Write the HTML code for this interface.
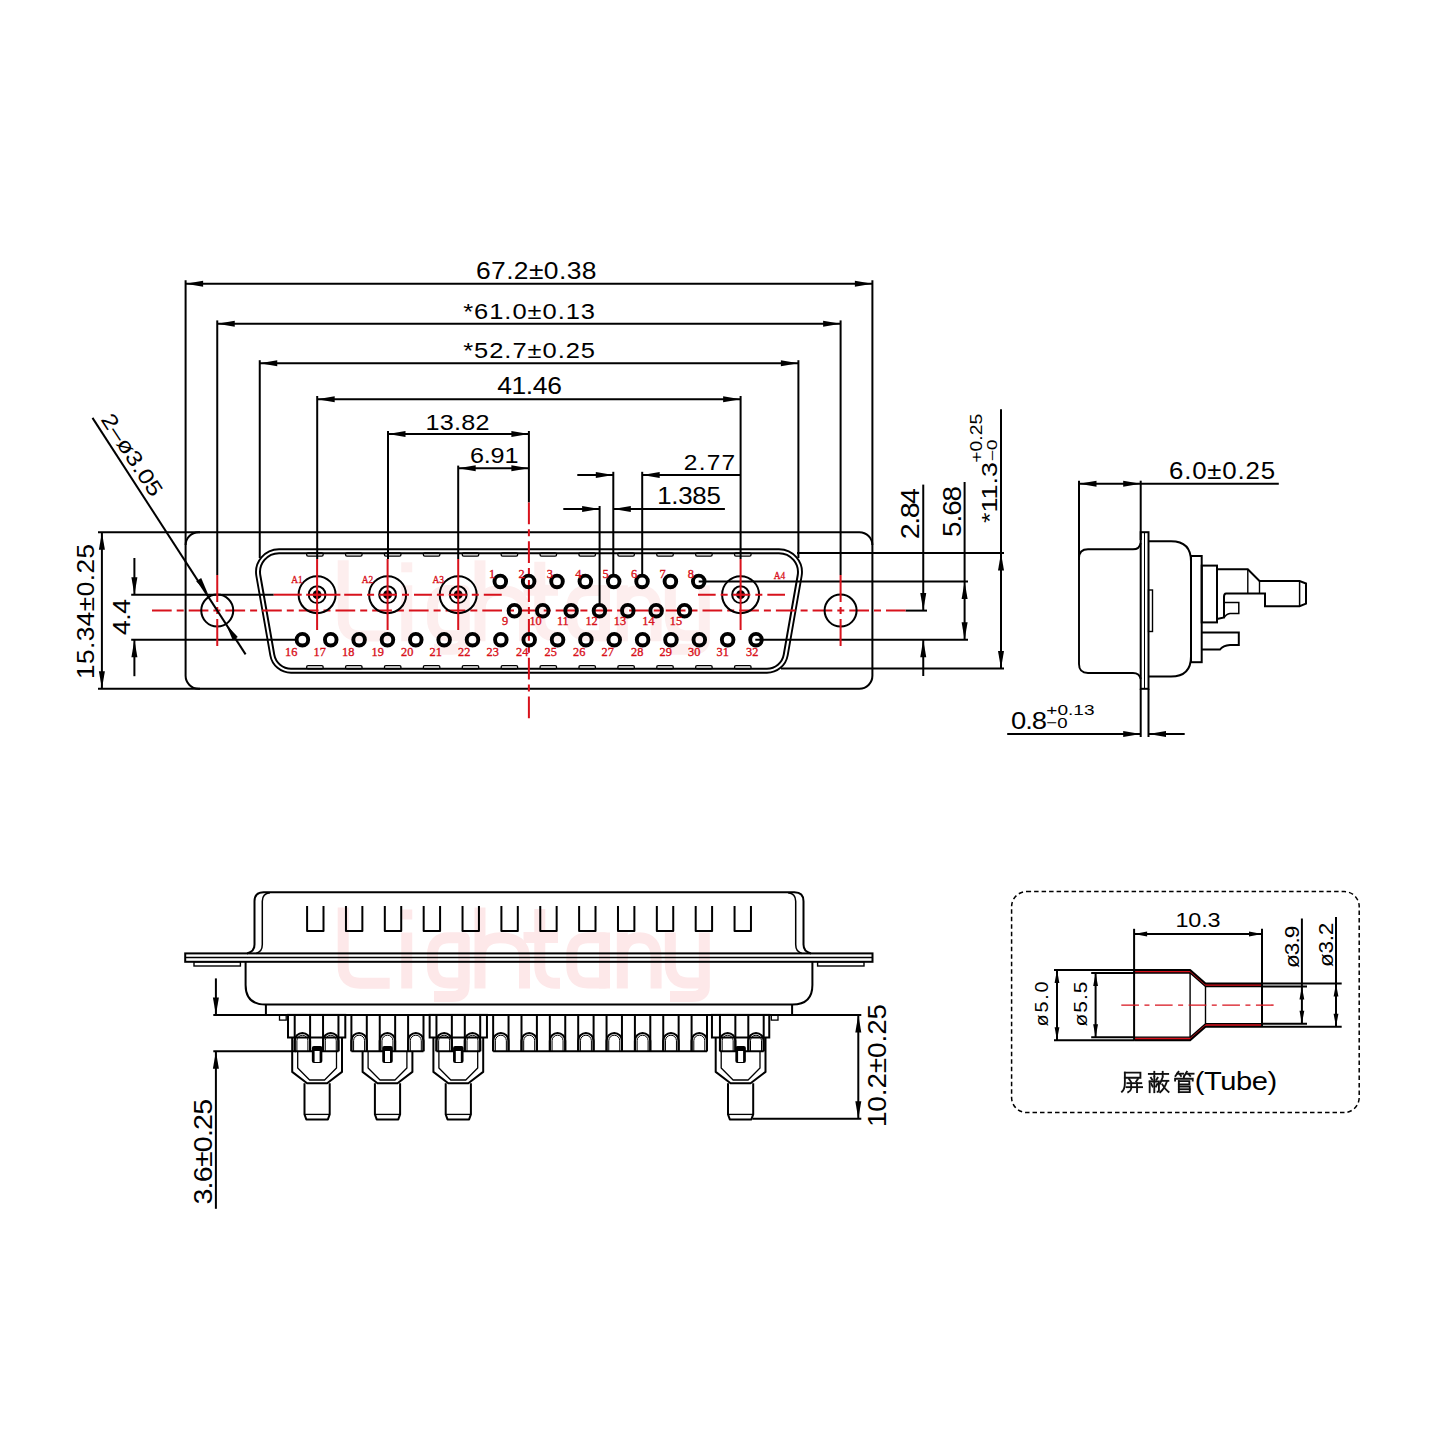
<!DOCTYPE html><html><head><meta charset="utf-8"><style>html,body{margin:0;padding:0;background:#fff;width:1440px;height:1440px;overflow:hidden}svg{display:block}</style></head><body><svg width="1440" height="1440" viewBox="0 0 1440 1440">
<rect width="1440" height="1440" fill="#fff"/>
<g transform="translate(0,-347.2)" fill="none" stroke="#fdeeee" stroke-width="11" stroke-linecap="butt" stroke-linejoin="round">
<path d="M343.2,907.5 V966 Q343.2,983.2 360,983.2 H389.7"/>
<path d="M406.75,932.5 V988.5"/>
<path d="M432.5,955 Q432.5,937.8 449,937.8 H464 V983 H449 Q432.5,983 432.5,966 Z"/>
<path d="M464,937 V987 Q464,996.5 452,996.5 H434"/>
<path d="M480,907.5 V988.5"/>
<path d="M480,958 Q480,937.8 500,937.8 Q524.5,937.8 524.5,958 V988.5"/>
<path d="M539.8,909 V966 Q539.8,983.2 556,983.2 H560"/>
<path d="M523.5,937.4 H558"/>
<path d="M571.8,955 Q571.8,937.8 588,937.8 H604.5 V983 H588 Q571.8,983 571.8,966 Z"/>
<path d="M604.5,932.5 V988.5"/>
<path d="M622.3,932.5 V988.5"/>
<path d="M622.3,958 Q622.3,937.8 639.2,937.8 Q656.1,937.8 656.1,958 V988.5"/>
<path d="M670.3,932.5 V963 Q670.3,983 688,983 H704"/>
<path d="M704.3,932.5 V987 Q704.3,996.5 692,996.5 H670"/>
<rect x="401.25" y="909.5" width="11" height="10" fill="#fdeeee" stroke="none"/>
</g>
<g transform="translate(0,0)" fill="none" stroke="#fde8e9" stroke-width="11" stroke-linecap="butt" stroke-linejoin="round">
<path d="M343.2,907.5 V966 Q343.2,983.2 360,983.2 H389.7"/>
<path d="M406.75,932.5 V988.5"/>
<path d="M432.5,955 Q432.5,937.8 449,937.8 H464 V983 H449 Q432.5,983 432.5,966 Z"/>
<path d="M464,937 V987 Q464,996.5 452,996.5 H434"/>
<path d="M480,907.5 V988.5"/>
<path d="M480,958 Q480,937.8 500,937.8 Q524.5,937.8 524.5,958 V988.5"/>
<path d="M539.8,909 V966 Q539.8,983.2 556,983.2 H560"/>
<path d="M523.5,937.4 H558"/>
<path d="M571.8,955 Q571.8,937.8 588,937.8 H604.5 V983 H588 Q571.8,983 571.8,966 Z"/>
<path d="M604.5,932.5 V988.5"/>
<path d="M622.3,932.5 V988.5"/>
<path d="M622.3,958 Q622.3,937.8 639.2,937.8 Q656.1,937.8 656.1,958 V988.5"/>
<path d="M670.3,932.5 V963 Q670.3,983 688,983 H704"/>
<path d="M704.3,932.5 V987 Q704.3,996.5 692,996.5 H670"/>
<rect x="401.25" y="909.5" width="11" height="10" fill="#fde8e9" stroke="none"/>
</g>
<line x1="185.6" y1="283.8" x2="872.4" y2="283.8" stroke="#000" stroke-width="2" stroke-linecap="butt"/>
<polygon points="185.6,283.8 203.1,280.8 203.1,286.8" fill="#000"/>
<polygon points="872.4,283.8 854.9,286.8 854.9,280.8" fill="#000"/>
<text id="d67" transform="translate(536.2,279.2) scale(1.12,1)" x="0" y="0" font-family="Liberation Sans" font-size="23.61" fill="#000" text-anchor="middle" textLength="107.61" lengthAdjust="spacing">67.2±0.38</text>
<line x1="217.25" y1="323.7" x2="840.6" y2="323.7" stroke="#000" stroke-width="2" stroke-linecap="butt"/>
<polygon points="217.25,323.7 234.75,320.7 234.75,326.7" fill="#000"/>
<polygon points="840.6,323.7 823.1,326.7 823.1,320.7" fill="#000"/>
<text id="d61" transform="translate(529.1,318.8) scale(1.12,1)" x="0" y="0" font-family="Liberation Sans" font-size="22.79" fill="#000" text-anchor="middle" textLength="117.72" lengthAdjust="spacing">*61.0±0.13</text>
<line x1="259.75" y1="363.3" x2="798.4" y2="363.3" stroke="#000" stroke-width="2" stroke-linecap="butt"/>
<polygon points="259.75,363.3 277.25,360.3 277.25,366.3" fill="#000"/>
<polygon points="798.4,363.3 780.9,366.3 780.9,360.3" fill="#000"/>
<text id="d52" transform="translate(529.1,358.4) scale(1.12,1)" x="0" y="0" font-family="Liberation Sans" font-size="22.79" fill="#000" text-anchor="middle" textLength="117.72" lengthAdjust="spacing">*52.7±0.25</text>
<line x1="317.2" y1="399.3" x2="740.6" y2="399.3" stroke="#000" stroke-width="2" stroke-linecap="butt"/>
<polygon points="317.2,399.3 334.7,396.3 334.7,402.3" fill="#000"/>
<polygon points="740.6,399.3 723.1,402.3 723.1,396.3" fill="#000"/>
<text id="d41" transform="translate(529.5,394) scale(1.12,1)" x="0" y="0" font-family="Liberation Sans" font-size="23.61" fill="#000" text-anchor="middle" textLength="57.79" lengthAdjust="spacing">41.46</text>
<line x1="388" y1="434" x2="528.9" y2="434" stroke="#000" stroke-width="2" stroke-linecap="butt"/>
<polygon points="388,434 405.5,431 405.5,437" fill="#000"/>
<polygon points="528.9,434 511.4,437 511.4,431" fill="#000"/>
<text id="d13" transform="translate(457.5,429.6) scale(1.12,1)" x="0" y="0" font-family="Liberation Sans" font-size="22.48" fill="#000" text-anchor="middle" textLength="57.34" lengthAdjust="spacing">13.82</text>
<line x1="458.2" y1="468.2" x2="528.9" y2="468.2" stroke="#000" stroke-width="2" stroke-linecap="butt"/>
<polygon points="458.2,468.2 475.7,465.2 475.7,471.2" fill="#000"/>
<polygon points="528.9,468.2 511.4,471.2 511.4,465.2" fill="#000"/>
<text id="d69" transform="translate(494.2,463.4) scale(1.12,1)" x="0" y="0" font-family="Liberation Sans" font-size="22.51" fill="#000" text-anchor="middle" textLength="43.24" lengthAdjust="spacing">6.91</text>
<line x1="185.6" y1="280.3" x2="185.6" y2="545" stroke="#000" stroke-width="2" stroke-linecap="butt"/>
<line x1="217.25" y1="320.4" x2="217.25" y2="575" stroke="#000" stroke-width="2" stroke-linecap="butt"/>
<line x1="259.75" y1="360.2" x2="259.75" y2="558" stroke="#000" stroke-width="2" stroke-linecap="butt"/>
<line x1="317.2" y1="396" x2="317.2" y2="559" stroke="#000" stroke-width="2" stroke-linecap="butt"/>
<line x1="388" y1="431" x2="388" y2="559" stroke="#000" stroke-width="2" stroke-linecap="butt"/>
<line x1="458.2" y1="465.6" x2="458.2" y2="559" stroke="#000" stroke-width="2" stroke-linecap="butt"/>
<line x1="528.9" y1="431" x2="528.9" y2="502.5" stroke="#000" stroke-width="2" stroke-linecap="butt"/>
<line x1="740.6" y1="396" x2="740.6" y2="559" stroke="#000" stroke-width="2" stroke-linecap="butt"/>
<line x1="798.4" y1="360.2" x2="798.4" y2="558" stroke="#000" stroke-width="2" stroke-linecap="butt"/>
<line x1="840.6" y1="320.4" x2="840.6" y2="575" stroke="#000" stroke-width="2" stroke-linecap="butt"/>
<line x1="872.4" y1="280.3" x2="872.4" y2="545" stroke="#000" stroke-width="2" stroke-linecap="butt"/>
<line x1="577.3" y1="474.9" x2="613.3" y2="474.9" stroke="#000" stroke-width="2" stroke-linecap="butt"/>
<polygon points="613.3,474.9 595.8,477.9 595.8,471.9" fill="#000"/>
<line x1="642.2" y1="474.9" x2="740.6" y2="474.9" stroke="#000" stroke-width="2" stroke-linecap="butt"/>
<polygon points="642.2,474.9 659.7,471.9 659.7,477.9" fill="#000"/>
<line x1="613.3" y1="471.8" x2="613.3" y2="575.5" stroke="#000" stroke-width="2" stroke-linecap="butt"/>
<line x1="642.2" y1="471.8" x2="642.2" y2="575.5" stroke="#000" stroke-width="2" stroke-linecap="butt"/>
<line x1="563.3" y1="508.9" x2="599.6" y2="508.9" stroke="#000" stroke-width="2" stroke-linecap="butt"/>
<polygon points="599.6,508.9 582.1,511.9 582.1,505.9" fill="#000"/>
<line x1="613.3" y1="508.9" x2="724.9" y2="508.9" stroke="#000" stroke-width="2" stroke-linecap="butt"/>
<polygon points="613.3,508.9 630.8,505.9 630.8,511.9" fill="#000"/>
<line x1="599.6" y1="506" x2="599.6" y2="604.5" stroke="#000" stroke-width="2" stroke-linecap="butt"/>
<text id="d277" transform="translate(709.5,470.2) scale(1.12,1)" x="0" y="0" font-family="Liberation Sans" font-size="21.88" fill="#000" text-anchor="middle" textLength="45.87" lengthAdjust="spacing">2.77</text>
<text id="d1385" transform="translate(689,504.2) scale(1.12,1)" x="0" y="0" font-family="Liberation Sans" font-size="23.11" fill="#000" text-anchor="middle" textLength="56.86" lengthAdjust="spacing">1.385</text>
<rect x="185.6" y="532.2" width="686.8" height="156.6" rx="13" ry="13" fill="none" stroke="#000" stroke-width="2.0"/>
<line x1="98" y1="532.2" x2="200" y2="532.2" stroke="#000" stroke-width="2" stroke-linecap="butt"/>
<line x1="98" y1="688.8" x2="200" y2="688.8" stroke="#000" stroke-width="2" stroke-linecap="butt"/>
<path d="M279.05,549.2 L778.95,549.2 A23,23 0 0 1 801.61,576.19 L787.67,655.34 A21,21 0 0 1 766.99,672.7 L291.01,672.7 A21,21 0 0 1 270.33,655.34 L256.39,576.19 A23,23 0 0 1 279.05,549.2 Z" fill="none" stroke="#000" stroke-width="1.9"/>
<path d="M279.05,553.2 L778.95,553.2 A19,19 0 0 1 797.67,575.49 L783.74,654.65 A17,17 0 0 1 766.99,668.7 L291.01,668.7 A17,17 0 0 1 274.26,654.65 L260.33,575.49 A19,19 0 0 1 279.05,553.2 Z" fill="none" stroke="#000" stroke-width="2"/>
<rect x="306.65" y="552.9" width="16.5" height="3.2" rx="1.4" fill="none" stroke="#000" stroke-width="1.3"/>
<rect x="306.65" y="665.6" width="16.5" height="3.2" rx="1.4" fill="none" stroke="#000" stroke-width="1.3"/>
<rect x="345.55" y="552.9" width="16.5" height="3.2" rx="1.4" fill="none" stroke="#000" stroke-width="1.3"/>
<rect x="345.55" y="665.6" width="16.5" height="3.2" rx="1.4" fill="none" stroke="#000" stroke-width="1.3"/>
<rect x="384.45" y="552.9" width="16.5" height="3.2" rx="1.4" fill="none" stroke="#000" stroke-width="1.3"/>
<rect x="384.45" y="665.6" width="16.5" height="3.2" rx="1.4" fill="none" stroke="#000" stroke-width="1.3"/>
<rect x="423.35" y="552.9" width="16.5" height="3.2" rx="1.4" fill="none" stroke="#000" stroke-width="1.3"/>
<rect x="423.35" y="665.6" width="16.5" height="3.2" rx="1.4" fill="none" stroke="#000" stroke-width="1.3"/>
<rect x="462.25" y="552.9" width="16.5" height="3.2" rx="1.4" fill="none" stroke="#000" stroke-width="1.3"/>
<rect x="462.25" y="665.6" width="16.5" height="3.2" rx="1.4" fill="none" stroke="#000" stroke-width="1.3"/>
<rect x="501.15" y="552.9" width="16.5" height="3.2" rx="1.4" fill="none" stroke="#000" stroke-width="1.3"/>
<rect x="501.15" y="665.6" width="16.5" height="3.2" rx="1.4" fill="none" stroke="#000" stroke-width="1.3"/>
<rect x="540.05" y="552.9" width="16.5" height="3.2" rx="1.4" fill="none" stroke="#000" stroke-width="1.3"/>
<rect x="540.05" y="665.6" width="16.5" height="3.2" rx="1.4" fill="none" stroke="#000" stroke-width="1.3"/>
<rect x="578.95" y="552.9" width="16.5" height="3.2" rx="1.4" fill="none" stroke="#000" stroke-width="1.3"/>
<rect x="578.95" y="665.6" width="16.5" height="3.2" rx="1.4" fill="none" stroke="#000" stroke-width="1.3"/>
<rect x="617.85" y="552.9" width="16.5" height="3.2" rx="1.4" fill="none" stroke="#000" stroke-width="1.3"/>
<rect x="617.85" y="665.6" width="16.5" height="3.2" rx="1.4" fill="none" stroke="#000" stroke-width="1.3"/>
<rect x="656.75" y="552.9" width="16.5" height="3.2" rx="1.4" fill="none" stroke="#000" stroke-width="1.3"/>
<rect x="656.75" y="665.6" width="16.5" height="3.2" rx="1.4" fill="none" stroke="#000" stroke-width="1.3"/>
<rect x="695.65" y="552.9" width="16.5" height="3.2" rx="1.4" fill="none" stroke="#000" stroke-width="1.3"/>
<rect x="695.65" y="665.6" width="16.5" height="3.2" rx="1.4" fill="none" stroke="#000" stroke-width="1.3"/>
<rect x="734.55" y="552.9" width="16.5" height="3.2" rx="1.4" fill="none" stroke="#000" stroke-width="1.3"/>
<rect x="734.55" y="665.6" width="16.5" height="3.2" rx="1.4" fill="none" stroke="#000" stroke-width="1.3"/>
<line x1="797" y1="552.9" x2="1004" y2="552.9" stroke="#000" stroke-width="2" stroke-linecap="butt"/>
<line x1="698.7" y1="581.4" x2="968" y2="581.4" stroke="#000" stroke-width="2" stroke-linecap="butt"/>
<line x1="755.3" y1="639.7" x2="968" y2="639.7" stroke="#000" stroke-width="2" stroke-linecap="butt"/>
<line x1="781" y1="668.6" x2="1004" y2="668.6" stroke="#000" stroke-width="2" stroke-linecap="butt"/>
<line x1="905.6" y1="610.6" x2="927" y2="610.6" stroke="#000" stroke-width="2" stroke-linecap="butt"/>
<line x1="131.2" y1="594.7" x2="273.7" y2="594.7" stroke="#000" stroke-width="2" stroke-linecap="butt"/>
<line x1="131.2" y1="639.7" x2="296" y2="639.7" stroke="#000" stroke-width="2" stroke-linecap="butt"/>
<line x1="152" y1="610.6" x2="905.6" y2="610.6" stroke="#d8121c" stroke-width="2" stroke-linecap="butt" stroke-dasharray="19.7 5 7 5"/>
<line x1="528.9" y1="502.5" x2="528.9" y2="718.3" stroke="#d8121c" stroke-width="2" stroke-linecap="butt" stroke-dasharray="21.8 5 7 5"/>
<circle cx="217.25" cy="610.6" r="16" fill="none" stroke="#000" stroke-width="2"/>
<line x1="217.25" y1="575" x2="217.25" y2="646" stroke="#d8121c" stroke-width="2" stroke-linecap="butt" stroke-dasharray="27 5 7 5"/>
<circle cx="840.6" cy="610.6" r="16" fill="none" stroke="#000" stroke-width="2"/>
<line x1="840.6" y1="575" x2="840.6" y2="646" stroke="#d8121c" stroke-width="2" stroke-linecap="butt" stroke-dasharray="27 5 7 5"/>
<circle cx="317.1" cy="594.7" r="18.5" fill="none" stroke="#000" stroke-width="2"/>
<circle cx="317.1" cy="594.7" r="8.4" fill="none" stroke="#000" stroke-width="2"/>
<circle cx="317.1" cy="594.7" r="4.4" fill="#000" stroke="#000" stroke-width="0"/>
<line x1="317.1" y1="559" x2="317.1" y2="630" stroke="#d8121c" stroke-width="2" stroke-linecap="butt"/>
<line x1="313.5" y1="594.7" x2="320.7" y2="594.7" stroke="#d8121c" stroke-width="2" stroke-linecap="butt"/>
<circle cx="387.6" cy="594.7" r="18.5" fill="none" stroke="#000" stroke-width="2"/>
<circle cx="387.6" cy="594.7" r="8.4" fill="none" stroke="#000" stroke-width="2"/>
<circle cx="387.6" cy="594.7" r="4.4" fill="#000" stroke="#000" stroke-width="0"/>
<line x1="387.6" y1="559" x2="387.6" y2="630" stroke="#d8121c" stroke-width="2" stroke-linecap="butt"/>
<line x1="384" y1="594.7" x2="391.2" y2="594.7" stroke="#d8121c" stroke-width="2" stroke-linecap="butt"/>
<circle cx="458.2" cy="594.7" r="18.5" fill="none" stroke="#000" stroke-width="2"/>
<circle cx="458.2" cy="594.7" r="8.4" fill="none" stroke="#000" stroke-width="2"/>
<circle cx="458.2" cy="594.7" r="4.4" fill="#000" stroke="#000" stroke-width="0"/>
<line x1="458.2" y1="559" x2="458.2" y2="630" stroke="#d8121c" stroke-width="2" stroke-linecap="butt"/>
<line x1="454.6" y1="594.7" x2="461.8" y2="594.7" stroke="#d8121c" stroke-width="2" stroke-linecap="butt"/>
<circle cx="740.6" cy="594.7" r="18.5" fill="none" stroke="#000" stroke-width="2"/>
<circle cx="740.6" cy="594.7" r="8.4" fill="none" stroke="#000" stroke-width="2"/>
<circle cx="740.6" cy="594.7" r="4.4" fill="#000" stroke="#000" stroke-width="0"/>
<line x1="740.6" y1="559" x2="740.6" y2="630" stroke="#d8121c" stroke-width="2" stroke-linecap="butt"/>
<line x1="737" y1="594.7" x2="744.2" y2="594.7" stroke="#d8121c" stroke-width="2" stroke-linecap="butt"/>
<line x1="273.7" y1="594.7" x2="301.7" y2="594.7" stroke="#d8121c" stroke-width="2" stroke-linecap="butt"/>
<line x1="306.2" y1="594.7" x2="340.4" y2="594.7" stroke="#d8121c" stroke-width="2" stroke-linecap="butt"/>
<line x1="344.2" y1="594.7" x2="501.7" y2="594.7" stroke="#d8121c" stroke-width="2" stroke-linecap="butt" stroke-dasharray="17.9 5 7 5"/>
<line x1="698" y1="594.7" x2="785" y2="594.7" stroke="#d8121c" stroke-width="2" stroke-linecap="butt" stroke-dasharray="17.67 5 7 5"/>
<circle cx="500.3" cy="581.4" r="5.8" fill="none" stroke="#000" stroke-width="3.9"/>
<circle cx="528.65" cy="581.4" r="5.8" fill="none" stroke="#000" stroke-width="3.9"/>
<circle cx="557" cy="581.4" r="5.8" fill="none" stroke="#000" stroke-width="3.9"/>
<circle cx="585.35" cy="581.4" r="5.8" fill="none" stroke="#000" stroke-width="3.9"/>
<circle cx="613.7" cy="581.4" r="5.8" fill="none" stroke="#000" stroke-width="3.9"/>
<circle cx="642.05" cy="581.4" r="5.8" fill="none" stroke="#000" stroke-width="3.9"/>
<circle cx="670.4" cy="581.4" r="5.8" fill="none" stroke="#000" stroke-width="3.9"/>
<circle cx="698.75" cy="581.4" r="5.8" fill="none" stroke="#000" stroke-width="3.9"/>
<circle cx="514.4" cy="610.7" r="5.8" fill="none" stroke="#000" stroke-width="3.9"/>
<circle cx="542.75" cy="610.7" r="5.8" fill="none" stroke="#000" stroke-width="3.9"/>
<circle cx="571.1" cy="610.7" r="5.8" fill="none" stroke="#000" stroke-width="3.9"/>
<circle cx="599.45" cy="610.7" r="5.8" fill="none" stroke="#000" stroke-width="3.9"/>
<circle cx="627.8" cy="610.7" r="5.8" fill="none" stroke="#000" stroke-width="3.9"/>
<circle cx="656.15" cy="610.7" r="5.8" fill="none" stroke="#000" stroke-width="3.9"/>
<circle cx="684.5" cy="610.7" r="5.8" fill="none" stroke="#000" stroke-width="3.9"/>
<circle cx="302.4" cy="639.7" r="5.8" fill="none" stroke="#000" stroke-width="3.9"/>
<circle cx="330.75" cy="639.7" r="5.8" fill="none" stroke="#000" stroke-width="3.9"/>
<circle cx="359.1" cy="639.7" r="5.8" fill="none" stroke="#000" stroke-width="3.9"/>
<circle cx="387.45" cy="639.7" r="5.8" fill="none" stroke="#000" stroke-width="3.9"/>
<circle cx="415.8" cy="639.7" r="5.8" fill="none" stroke="#000" stroke-width="3.9"/>
<circle cx="444.15" cy="639.7" r="5.8" fill="none" stroke="#000" stroke-width="3.9"/>
<circle cx="472.5" cy="639.7" r="5.8" fill="none" stroke="#000" stroke-width="3.9"/>
<circle cx="500.85" cy="639.7" r="5.8" fill="none" stroke="#000" stroke-width="3.9"/>
<circle cx="529.2" cy="639.7" r="5.8" fill="none" stroke="#000" stroke-width="3.9"/>
<circle cx="557.55" cy="639.7" r="5.8" fill="none" stroke="#000" stroke-width="3.9"/>
<circle cx="585.9" cy="639.7" r="5.8" fill="none" stroke="#000" stroke-width="3.9"/>
<circle cx="614.25" cy="639.7" r="5.8" fill="none" stroke="#000" stroke-width="3.9"/>
<circle cx="642.6" cy="639.7" r="5.8" fill="none" stroke="#000" stroke-width="3.9"/>
<circle cx="670.95" cy="639.7" r="5.8" fill="none" stroke="#000" stroke-width="3.9"/>
<circle cx="699.3" cy="639.7" r="5.8" fill="none" stroke="#000" stroke-width="3.9"/>
<circle cx="727.65" cy="639.7" r="5.8" fill="none" stroke="#000" stroke-width="3.9"/>
<circle cx="756" cy="639.7" r="5.8" fill="none" stroke="#000" stroke-width="3.9"/>
<text id="L1" x="489" y="578" font-family="Liberation Serif" font-size="12.3" fill="#d8121c" stroke="#d8121c" stroke-width="0.35">1</text>
<text id="L2" x="518.4" y="578" font-family="Liberation Serif" font-size="12.3" fill="#d8121c" stroke="#d8121c" stroke-width="0.35">2</text>
<text id="L3" x="546.8" y="578" font-family="Liberation Serif" font-size="12.3" fill="#d8121c" stroke="#d8121c" stroke-width="0.35">3</text>
<text id="L4" x="575.2" y="578" font-family="Liberation Serif" font-size="12.3" fill="#d8121c" stroke="#d8121c" stroke-width="0.35">4</text>
<text id="L5" x="602.6" y="578" font-family="Liberation Serif" font-size="12.3" fill="#d8121c" stroke="#d8121c" stroke-width="0.35">5</text>
<text id="L6" x="631" y="578" font-family="Liberation Serif" font-size="12.3" fill="#d8121c" stroke="#d8121c" stroke-width="0.35">6</text>
<text id="L7" x="659.4" y="578" font-family="Liberation Serif" font-size="12.3" fill="#d8121c" stroke="#d8121c" stroke-width="0.35">7</text>
<text id="L8" x="687.8" y="578" font-family="Liberation Serif" font-size="12.3" fill="#d8121c" stroke="#d8121c" stroke-width="0.35">8</text>
<text id="L9" x="502" y="625" font-family="Liberation Serif" font-size="12.3" fill="#d8121c" stroke="#d8121c" stroke-width="0.35">9</text>
<text id="L10" x="529.46" y="625" font-family="Liberation Serif" font-size="12.3" fill="#d8121c" stroke="#d8121c" stroke-width="0.35">10</text>
<text id="L11" x="556.92" y="625" font-family="Liberation Serif" font-size="12.3" fill="#d8121c" stroke="#d8121c" stroke-width="0.35">11</text>
<text id="L12" x="585.38" y="625" font-family="Liberation Serif" font-size="12.3" fill="#d8121c" stroke="#d8121c" stroke-width="0.35">12</text>
<text id="L13" x="613.84" y="625" font-family="Liberation Serif" font-size="12.3" fill="#d8121c" stroke="#d8121c" stroke-width="0.35">13</text>
<text id="L14" x="642.3" y="625" font-family="Liberation Serif" font-size="12.3" fill="#d8121c" stroke="#d8121c" stroke-width="0.35">14</text>
<text id="L15" x="669.76" y="625" font-family="Liberation Serif" font-size="12.3" fill="#d8121c" stroke="#d8121c" stroke-width="0.35">15</text>
<text id="L16" x="285" y="655.8" font-family="Liberation Serif" font-size="12.3" fill="#d8121c" stroke="#d8121c" stroke-width="0.35">16</text>
<text id="L17" x="313.5" y="655.8" font-family="Liberation Serif" font-size="12.3" fill="#d8121c" stroke="#d8121c" stroke-width="0.35">17</text>
<text id="L18" x="342" y="655.8" font-family="Liberation Serif" font-size="12.3" fill="#d8121c" stroke="#d8121c" stroke-width="0.35">18</text>
<text id="L19" x="371.5" y="655.8" font-family="Liberation Serif" font-size="12.3" fill="#d8121c" stroke="#d8121c" stroke-width="0.35">19</text>
<text id="L20" x="401" y="655.8" font-family="Liberation Serif" font-size="12.3" fill="#d8121c" stroke="#d8121c" stroke-width="0.35">20</text>
<text id="L21" x="429.5" y="655.8" font-family="Liberation Serif" font-size="12.3" fill="#d8121c" stroke="#d8121c" stroke-width="0.35">21</text>
<text id="L22" x="458" y="655.8" font-family="Liberation Serif" font-size="12.3" fill="#d8121c" stroke="#d8121c" stroke-width="0.35">22</text>
<text id="L23" x="486.5" y="655.8" font-family="Liberation Serif" font-size="12.3" fill="#d8121c" stroke="#d8121c" stroke-width="0.35">23</text>
<text id="L24" x="516" y="655.8" font-family="Liberation Serif" font-size="12.3" fill="#d8121c" stroke="#d8121c" stroke-width="0.35">24</text>
<text id="L25" x="544.5" y="655.8" font-family="Liberation Serif" font-size="12.3" fill="#d8121c" stroke="#d8121c" stroke-width="0.35">25</text>
<text id="L26" x="573" y="655.8" font-family="Liberation Serif" font-size="12.3" fill="#d8121c" stroke="#d8121c" stroke-width="0.35">26</text>
<text id="L27" x="601.5" y="655.8" font-family="Liberation Serif" font-size="12.3" fill="#d8121c" stroke="#d8121c" stroke-width="0.35">27</text>
<text id="L28" x="631" y="655.8" font-family="Liberation Serif" font-size="12.3" fill="#d8121c" stroke="#d8121c" stroke-width="0.35">28</text>
<text id="L29" x="659.5" y="655.8" font-family="Liberation Serif" font-size="12.3" fill="#d8121c" stroke="#d8121c" stroke-width="0.35">29</text>
<text id="L30" x="688" y="655.8" font-family="Liberation Serif" font-size="12.3" fill="#d8121c" stroke="#d8121c" stroke-width="0.35">30</text>
<text id="L31" x="716.5" y="655.8" font-family="Liberation Serif" font-size="12.3" fill="#d8121c" stroke="#d8121c" stroke-width="0.35">31</text>
<text id="L32" x="746" y="655.8" font-family="Liberation Serif" font-size="12.3" fill="#d8121c" stroke="#d8121c" stroke-width="0.35">32</text>
<text x="291.3" y="582.7" font-family="Liberation Serif" font-size="11.2" fill="#d8121c" stroke="#d8121c" stroke-width="0.35" textLength="11.5" lengthAdjust="spacingAndGlyphs">A1</text>
<text x="361.8" y="582.7" font-family="Liberation Serif" font-size="11.2" fill="#d8121c" stroke="#d8121c" stroke-width="0.35" textLength="11.5" lengthAdjust="spacingAndGlyphs">A2</text>
<text x="432.4" y="582.7" font-family="Liberation Serif" font-size="11.2" fill="#d8121c" stroke="#d8121c" stroke-width="0.35" textLength="11.5" lengthAdjust="spacingAndGlyphs">A3</text>
<text x="773.8" y="579.4" font-family="Liberation Serif" font-size="11.2" fill="#d8121c" stroke="#d8121c" stroke-width="0.35" textLength="11.5" lengthAdjust="spacingAndGlyphs">A4</text>
<line x1="923.25" y1="484.6" x2="923.25" y2="610.6" stroke="#000" stroke-width="2" stroke-linecap="butt"/>
<polygon points="923.25,610.6 920.25,593.1 926.25,593.1" fill="#000"/>
<line x1="923.25" y1="639.7" x2="923.25" y2="676" stroke="#000" stroke-width="2" stroke-linecap="butt"/>
<polygon points="923.25,639.7 926.25,657.2 920.25,657.2" fill="#000"/>
<line x1="964.6" y1="482" x2="964.6" y2="639.7" stroke="#000" stroke-width="2" stroke-linecap="butt"/>
<polygon points="964.6,581.4 967.6,598.9 961.6,598.9" fill="#000"/>
<polygon points="964.6,639.7 961.6,622.2 967.6,622.2" fill="#000"/>
<line x1="1001" y1="409.2" x2="1001" y2="668.6" stroke="#000" stroke-width="2" stroke-linecap="butt"/>
<polygon points="1001,552.9 1004,570.4 998,570.4" fill="#000"/>
<polygon points="1001,668.6 998,651.1 1004,651.1" fill="#000"/>
<text id="d284" transform="translate(919.2,513.6) rotate(-90) scale(1.12,1)" x="0" y="0" font-family="Liberation Sans" font-size="25.54" fill="#000" text-anchor="middle" textLength="45.62" lengthAdjust="spacing">2.84</text>
<text id="d568" transform="translate(960.6,511.4) rotate(-90) scale(1.12,1)" x="0" y="0" font-family="Liberation Sans" font-size="24.93" fill="#000" text-anchor="middle" textLength="45.57" lengthAdjust="spacing">5.68</text>
<text id="d113" transform="translate(996.6,492.5) rotate(-90) scale(1,1)" x="0" y="0" font-family="Liberation Sans" font-size="22.98" fill="#000" text-anchor="middle" textLength="61.07" lengthAdjust="spacingAndGlyphs">*11.3</text>
<text id="d113p" transform="translate(982,438.3) rotate(-90) scale(1,1)" x="0" y="0" font-family="Liberation Sans" font-size="16.45" fill="#000" text-anchor="middle" textLength="48.88" lengthAdjust="spacingAndGlyphs">+0.25</text>
<text id="d113m" transform="translate(996.6,450.5) rotate(-90) scale(1,1)" x="0" y="0" font-family="Liberation Sans" font-size="13.79" fill="#000" text-anchor="middle" textLength="22.24" lengthAdjust="spacingAndGlyphs">−0</text>
<line x1="101.9" y1="532.2" x2="101.9" y2="688.8" stroke="#000" stroke-width="2" stroke-linecap="butt"/>
<polygon points="101.9,532.2 104.9,549.7 98.9,549.7" fill="#000"/>
<polygon points="101.9,688.8 98.9,671.3 104.9,671.3" fill="#000"/>
<line x1="134.4" y1="558" x2="134.4" y2="594.7" stroke="#000" stroke-width="2" stroke-linecap="butt"/>
<polygon points="134.4,594.7 131.4,577.2 137.4,577.2" fill="#000"/>
<line x1="134.4" y1="639.7" x2="134.4" y2="676.2" stroke="#000" stroke-width="2" stroke-linecap="butt"/>
<polygon points="134.4,639.7 137.4,657.2 131.4,657.2" fill="#000"/>
<text id="d1534" transform="translate(93.5,611.5) rotate(-90) scale(1.12,1)" x="0" y="0" font-family="Liberation Sans" font-size="23.39" fill="#000" text-anchor="middle" textLength="120.63" lengthAdjust="spacing">15.34±0.25</text>
<text id="d44" transform="translate(130,617) rotate(-90) scale(1.12,1)" x="0" y="0" font-family="Liberation Sans" font-size="23.94" fill="#000" text-anchor="middle" textLength="32.28" lengthAdjust="spacing">4.4</text>
<line x1="92.5" y1="417.9" x2="245.6" y2="654.4" stroke="#000" stroke-width="2" stroke-linecap="butt"/>
<polygon points="208.2,594.4 196.17,581.34 201.21,578.08" fill="#000"/>
<polygon points="225.8,623.9 237.83,636.96 232.79,640.22" fill="#000"/>
<text id="lead" transform="translate(125.9,458.9) rotate(57)" x="0" y="0" font-family="Liberation Sans" font-size="21.5" text-anchor="middle" textLength="94" lengthAdjust="spacingAndGlyphs">2–ø3.05</text>
<line x1="1079" y1="480.7" x2="1079" y2="560" stroke="#000" stroke-width="2" stroke-linecap="butt"/>
<line x1="1140.7" y1="480.7" x2="1140.7" y2="540" stroke="#000" stroke-width="2" stroke-linecap="butt"/>
<line x1="1079" y1="483.8" x2="1278.8" y2="483.8" stroke="#000" stroke-width="2" stroke-linecap="butt"/>
<polygon points="1079,483.8 1096.5,480.8 1096.5,486.8" fill="#000"/>
<polygon points="1140.7,483.8 1123.2,486.8 1123.2,480.8" fill="#000"/>
<text id="d60" transform="translate(1222,479) scale(1.12,1)" x="0" y="0" font-family="Liberation Sans" font-size="23.11" fill="#000" text-anchor="middle" textLength="94.71" lengthAdjust="spacing">6.0±0.25</text>
<path d="M1140.7,543 Q1139.5,549.3 1133,549.3 L1088,549.3 Q1079,549.3 1079,558.3 L1079,664 Q1079,673 1088,673 L1133,673 Q1139.5,673 1140.7,679" fill="none" stroke="#000" stroke-width="1.9"/>
<rect x="1140.7" y="532.2" width="7.8" height="156.6" fill="none" stroke="#000" stroke-width="2.0"/>
<line x1="1144.5" y1="532.2" x2="1144.5" y2="688.8" stroke="#000" stroke-width="1" stroke-linecap="butt"/>
<line x1="1140.7" y1="688.8" x2="1140.7" y2="737" stroke="#000" stroke-width="2" stroke-linecap="butt"/>
<line x1="1148.5" y1="688.8" x2="1148.5" y2="737" stroke="#000" stroke-width="2" stroke-linecap="butt"/>
<path d="M1148.5,541.3 L1171,541.3 Q1191,541.3 1191,561.3 L1191,656.6 Q1191,676.6 1171,676.6 L1148.5,676.6" fill="none" stroke="#000" stroke-width="2"/>
<rect x="1148.5" y="590" width="4" height="41.5" fill="none" stroke="#000" stroke-width="1.4"/>
<rect x="1191" y="556" width="10.7" height="106.2" fill="none" stroke="#000" stroke-width="2.0"/>
<rect x="1201.7" y="565.6" width="15.3" height="56.8" fill="none" stroke="#000" stroke-width="2.0"/>
<path d="M1217,569.2 L1247.8,569.2 L1259.5,581 L1299.6,581 L1306,583.5 L1306,603.6 L1299.6,606.2 L1265,606.2 L1265,593.5 L1226,593.5 Q1224,593.5 1224,597 L1224,617.5 L1217,619" fill="none" stroke="#000" stroke-width="2"/>
<line x1="1299.6" y1="581" x2="1299.6" y2="606.2" stroke="#000" stroke-width="1.5" stroke-linecap="butt"/>
<line x1="1247.8" y1="569.2" x2="1247.8" y2="593.5" stroke="#000" stroke-width="1.4" stroke-linecap="butt"/>
<line x1="1259.5" y1="580" x2="1259.5" y2="593.5" stroke="#000" stroke-width="1.4" stroke-linecap="butt"/>
<path d="M1224,602.6 L1238.8,602.6 L1238.8,613.4 L1230,613.4 Q1226,614 1224,618" fill="none" stroke="#000" stroke-width="1.5"/>
<path d="M1201.7,632.4 L1238.8,632.4 L1238.8,645 L1230,645 Q1223,645.5 1220,649.5 L1201.7,649.5" fill="none" stroke="#000" stroke-width="2"/>
<line x1="1007.2" y1="734" x2="1140.7" y2="734" stroke="#000" stroke-width="2" stroke-linecap="butt"/>
<polygon points="1140.7,734 1123.2,737 1123.2,731" fill="#000"/>
<line x1="1148.5" y1="734" x2="1184.7" y2="734" stroke="#000" stroke-width="2" stroke-linecap="butt"/>
<polygon points="1148.5,734 1166,731 1166,737" fill="#000"/>
<text id="d08" transform="translate(1029.1,729.2) scale(1.12,1)" x="0" y="0" font-family="Liberation Sans" font-size="24.48" fill="#000" text-anchor="middle" textLength="32.15" lengthAdjust="spacing">0.8</text>
<text id="d08p" transform="translate(1070.4,715) scale(1,1)" x="0" y="0" font-family="Liberation Sans" font-size="15.32" fill="#000" text-anchor="middle" textLength="48.18" lengthAdjust="spacingAndGlyphs">+0.13</text>
<text id="d08m" transform="translate(1056.9,728.4) scale(1,1)" x="0" y="0" font-family="Liberation Sans" font-size="15.32" fill="#000" text-anchor="middle" textLength="21.18" lengthAdjust="spacingAndGlyphs">−0</text>
<path d="M247,953.4 Q254.5,952 254.5,944.6 L254.5,901.3 Q254.5,892.3 263.5,892.3 L794.5,892.3 Q803.5,892.3 803.5,901.3 L803.5,944.6 Q803.5,952 811,953.4" fill="none" stroke="#000" stroke-width="2"/>
<path d="M256,953.4 Q262.3,952 262.3,944.6 L262.3,901.3 Q262.3,893.5 270,892.8" fill="none" stroke="#000" stroke-width="1.5"/>
<path d="M802,953.4 Q795.7,952 795.7,944.6 L795.7,901.3 Q795.7,893.5 788,892.8" fill="none" stroke="#000" stroke-width="1.5"/>
<polyline points="307.1,906 307.1,931 323.5,931 323.5,906" fill="none" stroke="#000" stroke-width="2" stroke-linejoin="round"/>
<polyline points="345.96,906 345.96,931 362.36,931 362.36,906" fill="none" stroke="#000" stroke-width="2" stroke-linejoin="round"/>
<polyline points="384.82,906 384.82,931 401.22,931 401.22,906" fill="none" stroke="#000" stroke-width="2" stroke-linejoin="round"/>
<polyline points="423.68,906 423.68,931 440.08,931 440.08,906" fill="none" stroke="#000" stroke-width="2" stroke-linejoin="round"/>
<polyline points="462.54,906 462.54,931 478.94,931 478.94,906" fill="none" stroke="#000" stroke-width="2" stroke-linejoin="round"/>
<polyline points="501.4,906 501.4,931 517.8,931 517.8,906" fill="none" stroke="#000" stroke-width="2" stroke-linejoin="round"/>
<polyline points="540.26,906 540.26,931 556.66,931 556.66,906" fill="none" stroke="#000" stroke-width="2" stroke-linejoin="round"/>
<polyline points="579.12,906 579.12,931 595.52,931 595.52,906" fill="none" stroke="#000" stroke-width="2" stroke-linejoin="round"/>
<polyline points="617.98,906 617.98,931 634.38,931 634.38,906" fill="none" stroke="#000" stroke-width="2" stroke-linejoin="round"/>
<polyline points="656.84,906 656.84,931 673.24,931 673.24,906" fill="none" stroke="#000" stroke-width="2" stroke-linejoin="round"/>
<polyline points="695.7,906 695.7,931 712.1,931 712.1,906" fill="none" stroke="#000" stroke-width="2" stroke-linejoin="round"/>
<polyline points="734.56,906 734.56,931 750.96,931 750.96,906" fill="none" stroke="#000" stroke-width="2" stroke-linejoin="round"/>
<rect x="185.2" y="953.4" width="687.3" height="8.4" fill="none" stroke="#000" stroke-width="2.0"/>
<line x1="185.2" y1="957.6" x2="872.5" y2="957.6" stroke="#000" stroke-width="1.5" stroke-linecap="butt"/>
<rect x="194" y="961.8" width="46.4" height="4.2" fill="none" stroke="#000" stroke-width="1.4"/>
<rect x="817.6" y="961.8" width="46.4" height="4.2" fill="none" stroke="#000" stroke-width="1.4"/>
<path d="M245.6,961.8 L245.6,985 Q245.6,1004.5 265.4,1004.5 L792.6,1004.5 Q812.4,1004.5 812.4,985 L812.4,961.8" fill="none" stroke="#000" stroke-width="2"/>
<line x1="265.9" y1="1004.5" x2="265.9" y2="1014.9" stroke="#000" stroke-width="2" stroke-linecap="butt"/>
<line x1="792.1" y1="1004.5" x2="792.1" y2="1014.9" stroke="#000" stroke-width="2" stroke-linecap="butt"/>
<line x1="213.3" y1="1014.9" x2="861.3" y2="1014.9" stroke="#000" stroke-width="2" stroke-linecap="butt"/>
<rect x="279.5" y="1014.9" width="6.7" height="5.2" fill="none" stroke="#000" stroke-width="1.3"/>
<rect x="771.3" y="1014.9" width="6.7" height="5.2" fill="none" stroke="#000" stroke-width="1.3"/>
<line x1="213.3" y1="1051.3" x2="296" y2="1051.3" stroke="#000" stroke-width="2" stroke-linecap="butt"/>
<line x1="215.9" y1="978.4" x2="215.9" y2="1014.9" stroke="#000" stroke-width="2" stroke-linecap="butt"/>
<polygon points="215.9,1014.9 212.9,997.4 218.9,997.4" fill="#000"/>
<line x1="215.9" y1="1051.3" x2="215.9" y2="1208.8" stroke="#000" stroke-width="2" stroke-linecap="butt"/>
<polygon points="215.9,1051.3 218.9,1068.8 212.9,1068.8" fill="#000"/>
<text id="d36" transform="translate(212,1151.7) rotate(-90) scale(1.12,1)" x="0" y="0" font-family="Liberation Sans" font-size="25.54" fill="#000" text-anchor="middle" textLength="94.37" lengthAdjust="spacing">3.6±0.25</text>
<line x1="752.5" y1="1118.8" x2="861.3" y2="1118.8" stroke="#000" stroke-width="2" stroke-linecap="butt"/>
<line x1="858.3" y1="1014.9" x2="858.3" y2="1118.8" stroke="#000" stroke-width="2" stroke-linecap="butt"/>
<polygon points="858.3,1014.9 861.3,1032.4 855.3,1032.4" fill="#000"/>
<polygon points="858.3,1118.8 855.3,1101.3 861.3,1101.3" fill="#000"/>
<text id="d102" transform="translate(886,1065.5) rotate(-90) scale(1.12,1)" x="0" y="0" font-family="Liberation Sans" font-size="24.9" fill="#000" text-anchor="middle" textLength="110.04" lengthAdjust="spacing">10.2±0.25</text>
<rect x="288" y="1014.9" width="57.3" height="22.6" fill="none" stroke="#000" stroke-width="2.0"/>
<line x1="294.7" y1="1014.9" x2="294.7" y2="1051.3" stroke="#000" stroke-width="2" stroke-linecap="butt"/>
<line x1="310.1" y1="1014.9" x2="310.1" y2="1051.3" stroke="#000" stroke-width="2" stroke-linecap="butt"/>
<path d="M294.7,1051.3 L294.7,1040.7 A7.7,7.7 0 0 1 310.1,1040.7 L310.1,1051.3" fill="none" stroke="#000" stroke-width="2"/>
<path d="M296.9,1051.3 L296.9,1040.7 A5.5,5.5 0 0 1 307.9,1040.7 L307.9,1051.3" fill="none" stroke="#000" stroke-width="1"/>
<line x1="323.05" y1="1014.9" x2="323.05" y2="1051.3" stroke="#000" stroke-width="2" stroke-linecap="butt"/>
<line x1="338.45" y1="1014.9" x2="338.45" y2="1051.3" stroke="#000" stroke-width="2" stroke-linecap="butt"/>
<path d="M323.05,1051.3 L323.05,1040.7 A7.7,7.7 0 0 1 338.45,1040.7 L338.45,1051.3" fill="none" stroke="#000" stroke-width="2"/>
<path d="M325.25,1051.3 L325.25,1040.7 A5.5,5.5 0 0 1 336.25,1040.7 L336.25,1051.3" fill="none" stroke="#000" stroke-width="1"/>
<line x1="294.7" y1="1051.3" x2="338.45" y2="1051.3" stroke="#000" stroke-width="2" stroke-linecap="butt"/>
<polyline points="292.2,1037.5 292.2,1071.9 307.1,1083.2 327.1,1083.2 342,1071.9 342,1037.5" fill="none" stroke="#000" stroke-width="2" stroke-linejoin="round"/>
<polyline points="297.7,1051.3 297.7,1068 309.6,1080 324.6,1080 336.5,1068 336.5,1051.3" fill="none" stroke="#000" stroke-width="1.3" stroke-linejoin="round"/>
<polyline points="304.5,1083.2 304.5,1114.4 306.3,1119.4 327.9,1119.4 329.7,1114.4 329.7,1083.2" fill="none" stroke="#000" stroke-width="2" stroke-linejoin="round"/>
<line x1="304.5" y1="1114.4" x2="329.7" y2="1114.4" stroke="#000" stroke-width="1.3" stroke-linecap="butt"/>
<rect x="311.85" y="1046" width="10.5" height="17" rx="2" fill="#000"/>
<rect x="314.6" y="1051" width="5" height="11" fill="#fff"/>
<line x1="351.4" y1="1014.9" x2="351.4" y2="1051.3" stroke="#000" stroke-width="2" stroke-linecap="butt"/>
<line x1="366.8" y1="1014.9" x2="366.8" y2="1051.3" stroke="#000" stroke-width="2" stroke-linecap="butt"/>
<path d="M351.4,1051.3 L351.4,1040.7 A7.7,7.7 0 0 1 366.8,1040.7 L366.8,1051.3" fill="none" stroke="#000" stroke-width="2"/>
<path d="M353.6,1051.3 L353.6,1040.7 A5.5,5.5 0 0 1 364.6,1040.7 L364.6,1051.3" fill="none" stroke="#000" stroke-width="1"/>
<line x1="379.75" y1="1014.9" x2="379.75" y2="1051.3" stroke="#000" stroke-width="2" stroke-linecap="butt"/>
<line x1="395.15" y1="1014.9" x2="395.15" y2="1051.3" stroke="#000" stroke-width="2" stroke-linecap="butt"/>
<path d="M379.75,1051.3 L379.75,1040.7 A7.7,7.7 0 0 1 395.15,1040.7 L395.15,1051.3" fill="none" stroke="#000" stroke-width="2"/>
<path d="M381.95,1051.3 L381.95,1040.7 A5.5,5.5 0 0 1 392.95,1040.7 L392.95,1051.3" fill="none" stroke="#000" stroke-width="1"/>
<line x1="408.1" y1="1014.9" x2="408.1" y2="1051.3" stroke="#000" stroke-width="2" stroke-linecap="butt"/>
<line x1="423.5" y1="1014.9" x2="423.5" y2="1051.3" stroke="#000" stroke-width="2" stroke-linecap="butt"/>
<path d="M408.1,1051.3 L408.1,1040.7 A7.7,7.7 0 0 1 423.5,1040.7 L423.5,1051.3" fill="none" stroke="#000" stroke-width="2"/>
<path d="M410.3,1051.3 L410.3,1040.7 A5.5,5.5 0 0 1 421.3,1040.7 L421.3,1051.3" fill="none" stroke="#000" stroke-width="1"/>
<line x1="351.4" y1="1051.3" x2="423.5" y2="1051.3" stroke="#000" stroke-width="2" stroke-linecap="butt"/>
<polyline points="362.6,1051.3 362.6,1071.9 377.5,1083.2 397.5,1083.2 412.4,1071.9 412.4,1051.3" fill="none" stroke="#000" stroke-width="2" stroke-linejoin="round"/>
<polyline points="368.1,1051.3 368.1,1068 380,1080 395,1080 406.9,1068 406.9,1051.3" fill="none" stroke="#000" stroke-width="1.3" stroke-linejoin="round"/>
<polyline points="374.9,1083.2 374.9,1114.4 376.7,1119.4 398.3,1119.4 400.1,1114.4 400.1,1083.2" fill="none" stroke="#000" stroke-width="2" stroke-linejoin="round"/>
<line x1="374.9" y1="1114.4" x2="400.1" y2="1114.4" stroke="#000" stroke-width="1.3" stroke-linecap="butt"/>
<rect x="382.25" y="1046" width="10.5" height="17" rx="2" fill="#000"/>
<rect x="385" y="1051" width="5" height="11" fill="#fff"/>
<rect x="429.65" y="1014.9" width="57.3" height="22.6" fill="none" stroke="#000" stroke-width="2.0"/>
<line x1="436.45" y1="1014.9" x2="436.45" y2="1051.3" stroke="#000" stroke-width="2" stroke-linecap="butt"/>
<line x1="451.85" y1="1014.9" x2="451.85" y2="1051.3" stroke="#000" stroke-width="2" stroke-linecap="butt"/>
<path d="M436.45,1051.3 L436.45,1040.7 A7.7,7.7 0 0 1 451.85,1040.7 L451.85,1051.3" fill="none" stroke="#000" stroke-width="2"/>
<path d="M438.65,1051.3 L438.65,1040.7 A5.5,5.5 0 0 1 449.65,1040.7 L449.65,1051.3" fill="none" stroke="#000" stroke-width="1"/>
<line x1="464.8" y1="1014.9" x2="464.8" y2="1051.3" stroke="#000" stroke-width="2" stroke-linecap="butt"/>
<line x1="480.2" y1="1014.9" x2="480.2" y2="1051.3" stroke="#000" stroke-width="2" stroke-linecap="butt"/>
<path d="M464.8,1051.3 L464.8,1040.7 A7.7,7.7 0 0 1 480.2,1040.7 L480.2,1051.3" fill="none" stroke="#000" stroke-width="2"/>
<path d="M467,1051.3 L467,1040.7 A5.5,5.5 0 0 1 478,1040.7 L478,1051.3" fill="none" stroke="#000" stroke-width="1"/>
<line x1="436.45" y1="1051.3" x2="480.2" y2="1051.3" stroke="#000" stroke-width="2" stroke-linecap="butt"/>
<polyline points="433.4,1037.5 433.4,1071.9 448.3,1083.2 468.3,1083.2 483.2,1071.9 483.2,1037.5" fill="none" stroke="#000" stroke-width="2" stroke-linejoin="round"/>
<polyline points="438.9,1051.3 438.9,1068 450.8,1080 465.8,1080 477.7,1068 477.7,1051.3" fill="none" stroke="#000" stroke-width="1.3" stroke-linejoin="round"/>
<polyline points="445.7,1083.2 445.7,1114.4 447.5,1119.4 469.1,1119.4 470.9,1114.4 470.9,1083.2" fill="none" stroke="#000" stroke-width="2" stroke-linejoin="round"/>
<line x1="445.7" y1="1114.4" x2="470.9" y2="1114.4" stroke="#000" stroke-width="1.3" stroke-linecap="butt"/>
<rect x="453.05" y="1046" width="10.5" height="17" rx="2" fill="#000"/>
<rect x="455.8" y="1051" width="5" height="11" fill="#fff"/>
<line x1="493.15" y1="1014.9" x2="493.15" y2="1051.3" stroke="#000" stroke-width="2" stroke-linecap="butt"/>
<line x1="508.55" y1="1014.9" x2="508.55" y2="1051.3" stroke="#000" stroke-width="2" stroke-linecap="butt"/>
<path d="M493.15,1051.3 L493.15,1040.7 A7.7,7.7 0 0 1 508.55,1040.7 L508.55,1051.3" fill="none" stroke="#000" stroke-width="2"/>
<path d="M495.35,1051.3 L495.35,1040.7 A5.5,5.5 0 0 1 506.35,1040.7 L506.35,1051.3" fill="none" stroke="#000" stroke-width="1"/>
<line x1="521.5" y1="1014.9" x2="521.5" y2="1051.3" stroke="#000" stroke-width="2" stroke-linecap="butt"/>
<line x1="536.9" y1="1014.9" x2="536.9" y2="1051.3" stroke="#000" stroke-width="2" stroke-linecap="butt"/>
<path d="M521.5,1051.3 L521.5,1040.7 A7.7,7.7 0 0 1 536.9,1040.7 L536.9,1051.3" fill="none" stroke="#000" stroke-width="2"/>
<path d="M523.7,1051.3 L523.7,1040.7 A5.5,5.5 0 0 1 534.7,1040.7 L534.7,1051.3" fill="none" stroke="#000" stroke-width="1"/>
<line x1="549.85" y1="1014.9" x2="549.85" y2="1051.3" stroke="#000" stroke-width="2" stroke-linecap="butt"/>
<line x1="565.25" y1="1014.9" x2="565.25" y2="1051.3" stroke="#000" stroke-width="2" stroke-linecap="butt"/>
<path d="M549.85,1051.3 L549.85,1040.7 A7.7,7.7 0 0 1 565.25,1040.7 L565.25,1051.3" fill="none" stroke="#000" stroke-width="2"/>
<path d="M552.05,1051.3 L552.05,1040.7 A5.5,5.5 0 0 1 563.05,1040.7 L563.05,1051.3" fill="none" stroke="#000" stroke-width="1"/>
<line x1="578.2" y1="1014.9" x2="578.2" y2="1051.3" stroke="#000" stroke-width="2" stroke-linecap="butt"/>
<line x1="593.6" y1="1014.9" x2="593.6" y2="1051.3" stroke="#000" stroke-width="2" stroke-linecap="butt"/>
<path d="M578.2,1051.3 L578.2,1040.7 A7.7,7.7 0 0 1 593.6,1040.7 L593.6,1051.3" fill="none" stroke="#000" stroke-width="2"/>
<path d="M580.4,1051.3 L580.4,1040.7 A5.5,5.5 0 0 1 591.4,1040.7 L591.4,1051.3" fill="none" stroke="#000" stroke-width="1"/>
<line x1="606.55" y1="1014.9" x2="606.55" y2="1051.3" stroke="#000" stroke-width="2" stroke-linecap="butt"/>
<line x1="621.95" y1="1014.9" x2="621.95" y2="1051.3" stroke="#000" stroke-width="2" stroke-linecap="butt"/>
<path d="M606.55,1051.3 L606.55,1040.7 A7.7,7.7 0 0 1 621.95,1040.7 L621.95,1051.3" fill="none" stroke="#000" stroke-width="2"/>
<path d="M608.75,1051.3 L608.75,1040.7 A5.5,5.5 0 0 1 619.75,1040.7 L619.75,1051.3" fill="none" stroke="#000" stroke-width="1"/>
<line x1="634.9" y1="1014.9" x2="634.9" y2="1051.3" stroke="#000" stroke-width="2" stroke-linecap="butt"/>
<line x1="650.3" y1="1014.9" x2="650.3" y2="1051.3" stroke="#000" stroke-width="2" stroke-linecap="butt"/>
<path d="M634.9,1051.3 L634.9,1040.7 A7.7,7.7 0 0 1 650.3,1040.7 L650.3,1051.3" fill="none" stroke="#000" stroke-width="2"/>
<path d="M637.1,1051.3 L637.1,1040.7 A5.5,5.5 0 0 1 648.1,1040.7 L648.1,1051.3" fill="none" stroke="#000" stroke-width="1"/>
<line x1="663.25" y1="1014.9" x2="663.25" y2="1051.3" stroke="#000" stroke-width="2" stroke-linecap="butt"/>
<line x1="678.65" y1="1014.9" x2="678.65" y2="1051.3" stroke="#000" stroke-width="2" stroke-linecap="butt"/>
<path d="M663.25,1051.3 L663.25,1040.7 A7.7,7.7 0 0 1 678.65,1040.7 L678.65,1051.3" fill="none" stroke="#000" stroke-width="2"/>
<path d="M665.45,1051.3 L665.45,1040.7 A5.5,5.5 0 0 1 676.45,1040.7 L676.45,1051.3" fill="none" stroke="#000" stroke-width="1"/>
<line x1="691.6" y1="1014.9" x2="691.6" y2="1051.3" stroke="#000" stroke-width="2" stroke-linecap="butt"/>
<line x1="707" y1="1014.9" x2="707" y2="1051.3" stroke="#000" stroke-width="2" stroke-linecap="butt"/>
<path d="M691.6,1051.3 L691.6,1040.7 A7.7,7.7 0 0 1 707,1040.7 L707,1051.3" fill="none" stroke="#000" stroke-width="2"/>
<path d="M693.8,1051.3 L693.8,1040.7 A5.5,5.5 0 0 1 704.8,1040.7 L704.8,1051.3" fill="none" stroke="#000" stroke-width="1"/>
<line x1="493.15" y1="1051.3" x2="707" y2="1051.3" stroke="#000" stroke-width="2" stroke-linecap="butt"/>
<rect x="711.95" y="1014.9" width="57.3" height="22.6" fill="none" stroke="#000" stroke-width="2.0"/>
<line x1="719.95" y1="1014.9" x2="719.95" y2="1051.3" stroke="#000" stroke-width="2" stroke-linecap="butt"/>
<line x1="735.35" y1="1014.9" x2="735.35" y2="1051.3" stroke="#000" stroke-width="2" stroke-linecap="butt"/>
<path d="M719.95,1051.3 L719.95,1040.7 A7.7,7.7 0 0 1 735.35,1040.7 L735.35,1051.3" fill="none" stroke="#000" stroke-width="2"/>
<path d="M722.15,1051.3 L722.15,1040.7 A5.5,5.5 0 0 1 733.15,1040.7 L733.15,1051.3" fill="none" stroke="#000" stroke-width="1"/>
<line x1="748.3" y1="1014.9" x2="748.3" y2="1051.3" stroke="#000" stroke-width="2" stroke-linecap="butt"/>
<line x1="763.7" y1="1014.9" x2="763.7" y2="1051.3" stroke="#000" stroke-width="2" stroke-linecap="butt"/>
<path d="M748.3,1051.3 L748.3,1040.7 A7.7,7.7 0 0 1 763.7,1040.7 L763.7,1051.3" fill="none" stroke="#000" stroke-width="2"/>
<path d="M750.5,1051.3 L750.5,1040.7 A5.5,5.5 0 0 1 761.5,1040.7 L761.5,1051.3" fill="none" stroke="#000" stroke-width="1"/>
<line x1="719.95" y1="1051.3" x2="763.7" y2="1051.3" stroke="#000" stroke-width="2" stroke-linecap="butt"/>
<polyline points="715.7,1037.5 715.7,1071.9 730.6,1083.2 750.6,1083.2 765.5,1071.9 765.5,1037.5" fill="none" stroke="#000" stroke-width="2" stroke-linejoin="round"/>
<polyline points="721.2,1051.3 721.2,1068 733.1,1080 748.1,1080 760,1068 760,1051.3" fill="none" stroke="#000" stroke-width="1.3" stroke-linejoin="round"/>
<polyline points="728,1083.2 728,1114.4 729.8,1119.4 751.4,1119.4 753.2,1114.4 753.2,1083.2" fill="none" stroke="#000" stroke-width="2" stroke-linejoin="round"/>
<line x1="728" y1="1114.4" x2="753.2" y2="1114.4" stroke="#000" stroke-width="1.3" stroke-linecap="butt"/>
<rect x="735.35" y="1046" width="10.5" height="17" rx="2" fill="#000"/>
<rect x="738.1" y="1051" width="5" height="11" fill="#fff"/>
<rect x="1011.6" y="891.6" width="347.6" height="220.9" rx="15" ry="15" fill="none" stroke="#000" stroke-width="1.5" stroke-dasharray="4.5 3"/>
<polygon points="1134.1,970 1190.1,970 1205.5,983.5 1262,983.5 1262,986.5 1205.5,986.5 1190.1,973 1134.1,973" fill="#d8121c" stroke="none" stroke-width="0" stroke-linejoin="round"/>
<polyline points="1134.1,970 1190.1,970 1205.5,983.5 1262,983.5" fill="none" stroke="#000" stroke-width="2" stroke-linejoin="round"/>
<polyline points="1262,986.5 1205.5,986.5 1190.1,973 1134.1,973" fill="none" stroke="#000" stroke-width="1.3" stroke-linejoin="round"/>
<polygon points="1134.1,1040.2 1190.1,1040.2 1205.5,1026.7 1262,1026.7 1262,1023.7 1205.5,1023.7 1190.1,1037.2 1134.1,1037.2" fill="#d8121c" stroke="none" stroke-width="0" stroke-linejoin="round"/>
<polyline points="1134.1,1040.2 1190.1,1040.2 1205.5,1026.7 1262,1026.7" fill="none" stroke="#000" stroke-width="2" stroke-linejoin="round"/>
<polyline points="1262,1023.7 1205.5,1023.7 1190.1,1037.2 1134.1,1037.2" fill="none" stroke="#000" stroke-width="1.3" stroke-linejoin="round"/>
<line x1="1134.1" y1="928.8" x2="1134.1" y2="1040.2" stroke="#000" stroke-width="2" stroke-linecap="butt"/>
<line x1="1190.1" y1="973" x2="1190.1" y2="1037.2" stroke="#000" stroke-width="1.4" stroke-linecap="butt"/>
<line x1="1205.5" y1="986.5" x2="1205.5" y2="1023.7" stroke="#000" stroke-width="1.4" stroke-linecap="butt"/>
<line x1="1262" y1="928.8" x2="1262" y2="1026.7" stroke="#000" stroke-width="2" stroke-linecap="butt"/>
<line x1="1121.3" y1="1005.1" x2="1273.6" y2="1005.1" stroke="#d8121c" stroke-width="1.4" stroke-linecap="butt" stroke-dasharray="17.66 5.5 5 5.5"/>
<line x1="1134.1" y1="934" x2="1262" y2="934" stroke="#000" stroke-width="2" stroke-linecap="butt"/>
<polygon points="1134.1,934 1147.1,931.6 1147.1,936.4" fill="#000"/>
<polygon points="1262,934 1249,936.4 1249,931.6" fill="#000"/>
<text id="d103" transform="translate(1198,927) scale(1.12,1)" x="0" y="0" font-family="Liberation Sans" font-size="20.92" fill="#000" text-anchor="middle" textLength="40.25" lengthAdjust="spacing">10.3</text>
<line x1="1054" y1="970" x2="1134.1" y2="970" stroke="#000" stroke-width="2" stroke-linecap="butt"/>
<line x1="1054" y1="1040.2" x2="1134.1" y2="1040.2" stroke="#000" stroke-width="2" stroke-linecap="butt"/>
<line x1="1057" y1="970" x2="1057" y2="1040.2" stroke="#000" stroke-width="2" stroke-linecap="butt"/>
<polygon points="1057,970 1059.4,983 1054.6,983" fill="#000"/>
<polygon points="1057,1040.2 1054.6,1027.2 1059.4,1027.2" fill="#000"/>
<line x1="1091.2" y1="973" x2="1134.1" y2="973" stroke="#000" stroke-width="2" stroke-linecap="butt"/>
<line x1="1091.2" y1="1037.2" x2="1134.1" y2="1037.2" stroke="#000" stroke-width="2" stroke-linecap="butt"/>
<line x1="1095.6" y1="973" x2="1095.6" y2="1037.2" stroke="#000" stroke-width="2" stroke-linecap="butt"/>
<polygon points="1095.6,973 1098,986 1093.2,986" fill="#000"/>
<polygon points="1095.6,1037.2 1093.2,1024.2 1098,1024.2" fill="#000"/>
<text id="p50" transform="translate(1048.4,1004) rotate(-90) scale(1.12,1)" x="0" y="0" font-family="Liberation Sans" font-size="17.61" fill="#000" text-anchor="middle" textLength="39.99" lengthAdjust="spacing">ø5.0</text>
<text id="p55" transform="translate(1087.2,1004) rotate(-90) scale(1.12,1)" x="0" y="0" font-family="Liberation Sans" font-size="18.7" fill="#000" text-anchor="middle" textLength="40.07" lengthAdjust="spacing">ø5.5</text>
<line x1="1262" y1="983.5" x2="1341.7" y2="983.5" stroke="#000" stroke-width="2" stroke-linecap="butt"/>
<line x1="1262" y1="1026.7" x2="1341.7" y2="1026.7" stroke="#000" stroke-width="2" stroke-linecap="butt"/>
<line x1="1262" y1="986.5" x2="1307" y2="986.5" stroke="#000" stroke-width="2" stroke-linecap="butt"/>
<line x1="1262" y1="1023.7" x2="1307" y2="1023.7" stroke="#000" stroke-width="2" stroke-linecap="butt"/>
<line x1="1301.9" y1="918.5" x2="1301.9" y2="1023.7" stroke="#000" stroke-width="2" stroke-linecap="butt"/>
<polygon points="1301.9,986.5 1304.3,999.5 1299.5,999.5" fill="#000"/>
<polygon points="1301.9,1023.7 1299.5,1010.7 1304.3,1010.7" fill="#000"/>
<line x1="1336" y1="917" x2="1336" y2="1026.7" stroke="#000" stroke-width="2" stroke-linecap="butt"/>
<polygon points="1336,983.5 1338.4,996.5 1333.6,996.5" fill="#000"/>
<polygon points="1336,1026.7 1333.6,1013.7 1338.4,1013.7" fill="#000"/>
<text id="p39" transform="translate(1299.4,946.9) rotate(-90) scale(1.12,1)" x="0" y="0" font-family="Liberation Sans" font-size="20.14" fill="#000" text-anchor="middle" textLength="37.87" lengthAdjust="spacing">ø3.9</text>
<text id="p32" transform="translate(1332.6,944.8) rotate(-90) scale(1.12,1)" x="0" y="0" font-family="Liberation Sans" font-size="20.14" fill="#000" text-anchor="middle" textLength="39.48" lengthAdjust="spacing">ø3.2</text>
<g transform="translate(1121.5,1071.4) scale(0.21)" fill="none" stroke="#111" stroke-width="8.84" stroke-linecap="square">
<path d="M16,6 H90 V30 H16"/>
<path d="M16,6 V55 Q16,84 2,97"/>
<path d="M36,36 L44,48"/>
<path d="M78,36 L70,48"/>
<path d="M28,56 H94"/>
<path d="M24,75 H98"/>
<path d="M46,56 V82 Q44,94 32,99"/>
<path d="M74,56 V99"/>
</g>
<g transform="translate(1148,1071.4) scale(0.21)" fill="none" stroke="#111" stroke-width="8.84" stroke-linecap="square">
<path d="M4,12 H96"/>
<path d="M30,2 V22"/>
<path d="M70,2 V22"/>
<path d="M30,27 V42"/>
<path d="M14,30 L20,40"/>
<path d="M46,30 L40,40"/>
<path d="M8,48 V99"/>
<path d="M8,48 H52 V92 Q52,97 46,97"/>
<path d="M30,48 V99"/>
<path d="M16,60 L22,72"/>
<path d="M44,60 L38,72"/>
<path d="M70,28 L58,58"/>
<path d="M64,45 H97"/>
<path d="M90,48 Q80,80 58,99"/>
<path d="M68,62 Q80,85 98,98"/>
</g>
<g transform="translate(1173.4,1071.4) scale(0.21)" fill="none" stroke="#111" stroke-width="8.84" stroke-linecap="square">
<path d="M24,2 L10,22"/>
<path d="M18,11 H46"/>
<path d="M30,13 L36,22"/>
<path d="M64,2 L52,22"/>
<path d="M60,11 H96"/>
<path d="M72,13 L80,22"/>
<path d="M50,24 V32"/>
<path d="M8,44 V35 H92 V44"/>
<path d="M26,46 H76 V62 H26"/>
<path d="M26,46 V99"/>
<path d="M26,72 H78 V99 H26"/>
<path d="M26,85 H78"/>
</g>
<text id="tube" transform="translate(1236,1089.8) scale(1.12,1)" x="0" y="0" font-family="Liberation Sans" font-size="25.99" fill="#000" text-anchor="middle" textLength="73.52" lengthAdjust="spacing">(Tube)</text>
</svg></body></html>
